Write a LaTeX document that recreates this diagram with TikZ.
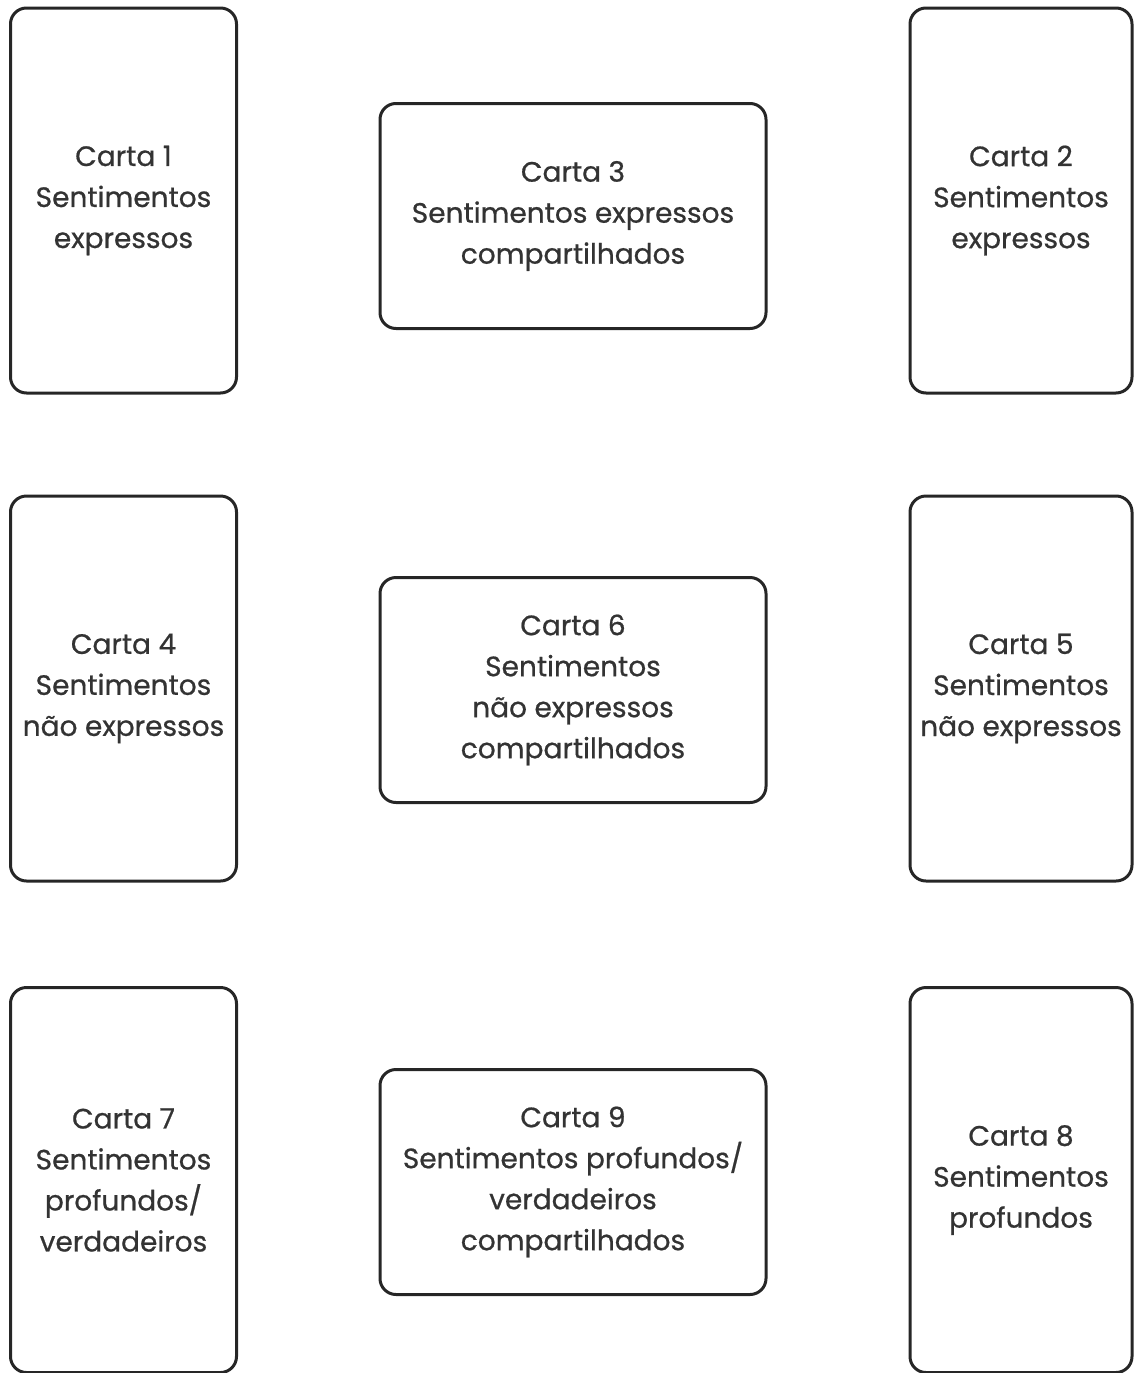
\documentclass[tikz,border=0pt]{standalone}
\usepackage{fontspec}
\setmainfont{Poppins}
\newfontfamily\cardfont{Poppins}[FakeBold=0.7]
\begin{document}
\begin{tikzpicture}[x=1pt,y=-1pt,
  card/.style={draw=black!85,line width=3pt,rounded corners=16pt,align=center,
    inner sep=0pt,font=\cardfont\fontsize{28}{41}\selectfont,text=black!80},
  tall/.style={card,minimum width=222pt,minimum height=385pt},
  wide/.style={card,minimum width=386pt,minimum height=225pt}]
\useasboundingbox (0,0) rectangle (1133,1373);
\node[tall,minimum width=226pt] (c1) at (123.5,200.5) {Carta 1\\Sentimentos\\expressos};
\node[wide] (c3) at (573,216) {Carta 3\\Sentimentos expressos\\compartilhados};
\node[tall] (c2) at (1021,200.5) {Carta 2\\Sentimentos\\expressos};
\node[tall,minimum width=226pt] (c4) at (123.5,688.5) {Carta 4\\Sentimentos\\não expressos};
\node[wide] (c6) at (573,690) {Carta 6\\Sentimentos\\não expressos\\compartilhados};
\node[tall] (c5) at (1021,688.5) {Carta 5\\Sentimentos\\não expressos};
\node[tall,minimum width=226pt] (c7) at (123.5,1180) {Carta 7\\Sentimentos\\profundos/\\verdadeiros};
\node[wide] (c9) at (573,1182) {Carta 9\\Sentimentos profundos/\\verdadeiros\\compartilhados};
\node[tall] (c8) at (1021,1180) {Carta 8\\Sentimentos\\profundos};
\end{tikzpicture}
\end{document}
